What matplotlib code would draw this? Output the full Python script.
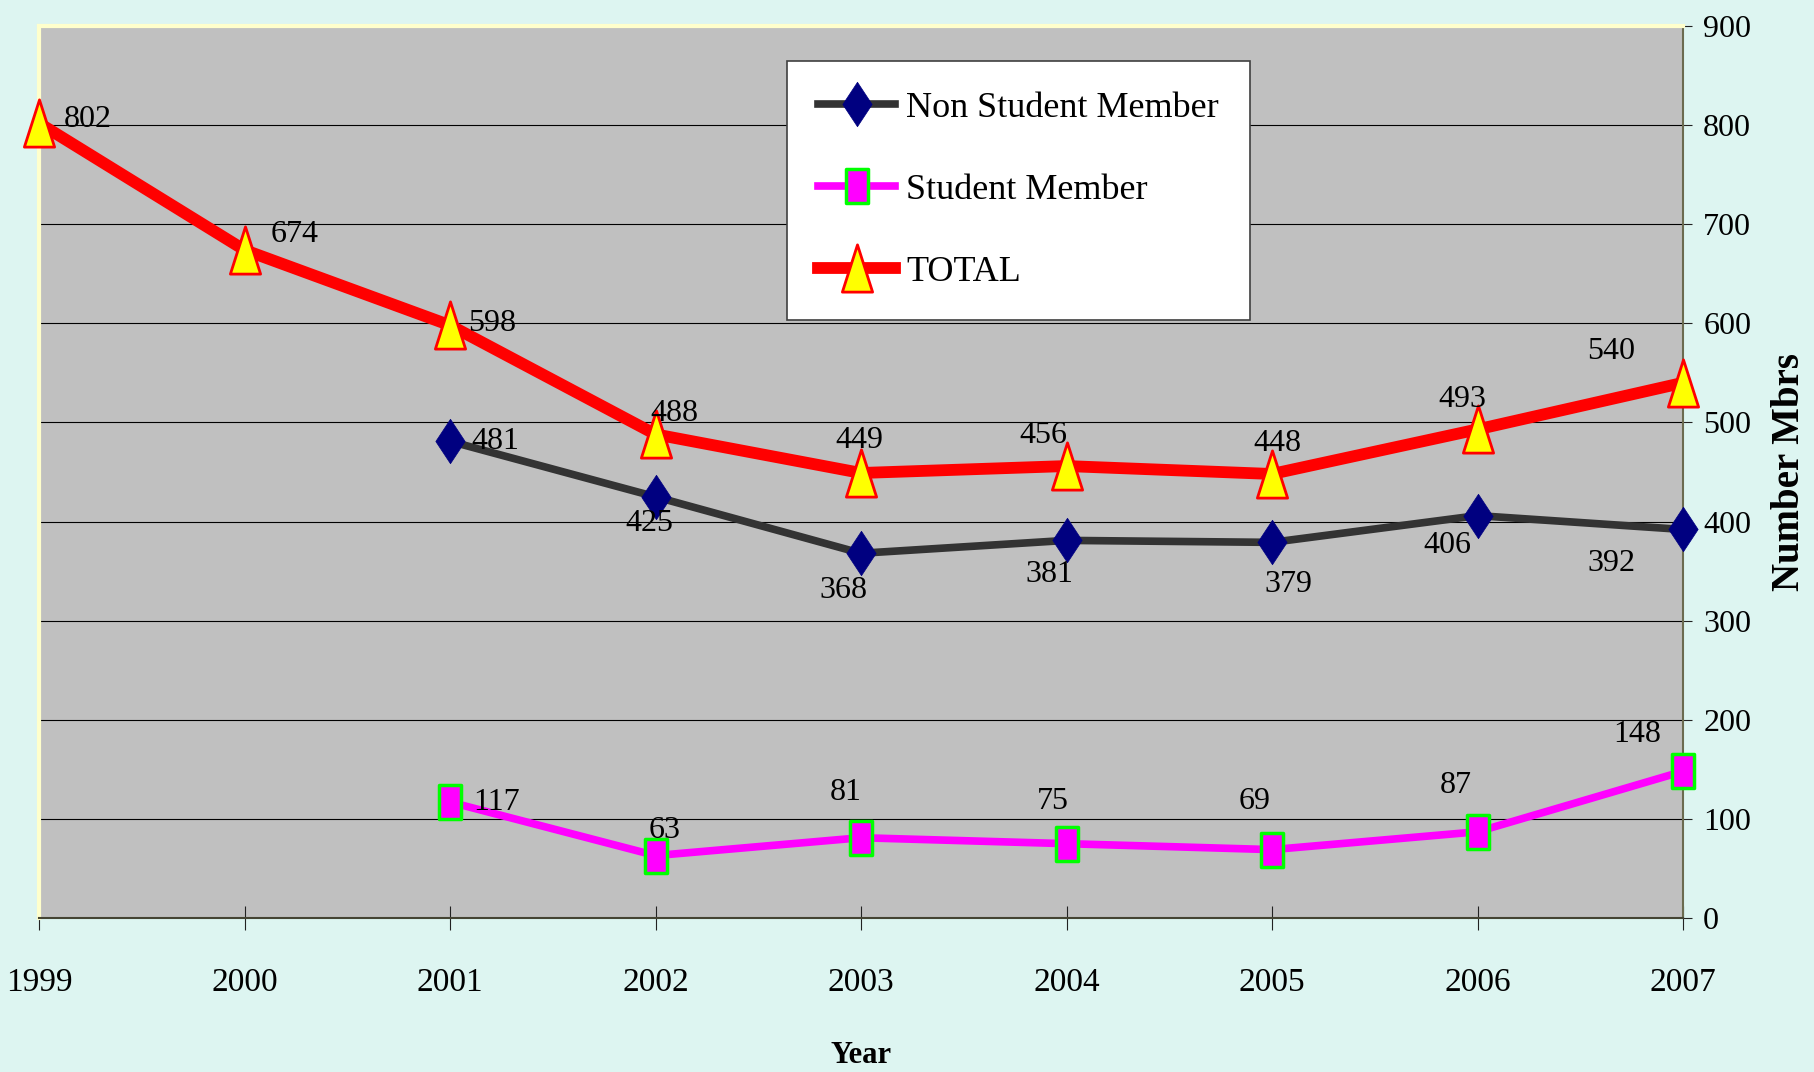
import numpy as np
import matplotlib
matplotlib.use("Agg")
import matplotlib.pyplot as plt
from matplotlib.path import Path

plt.rcParams["font.family"] = ["Liberation Serif", "DejaVu Serif"]

# datos
years       = [1999, 2000, 2001, 2002, 2003, 2004, 2005, 2006, 2007]
non_student = [np.nan, np.nan, 481, 425, 368, 381, 379, 406, 392]
student     = [np.nan, np.nan, 117, 63, 81, 75, 69, 87, 148]
total       = [802, 674, 598, 488, 449, 456, 448, 493, 540]

y_ticks = [0, 100, 200, 300, 400, 500, 600, 700, 800, 900]

# desplazamiento de etiquetas (pixeles, +y hacia arriba)
off_non   = [None, None, (45, 0), (-6, -27), (-18, -37), (-17, -34), (16, -42), (-30, -30), (-72, -34)]
off_stu   = [None, None, (47, 0), (9, 25), (-15, 45), (-14, 42), (-17, 48), (-22, 46), (-46, 37)]
off_total = [(49, 4), (50, 15), (42, 2), (19, 21), (-2, 32), (-23, 31), (5, 30), (-15, 30), (-72, 31)]

# marcadores alargados (como los de Excel)
diamond = Path([(0, 1), (0.66, 0), (0, -1), (-0.66, 0), (0, 1)],
               [Path.MOVETO, Path.LINETO, Path.LINETO, Path.LINETO, Path.CLOSEPOLY])
tri = Path([(0, 1), (0.64, -1), (-0.64, -1), (0, 1)],
           [Path.MOVETO, Path.LINETO, Path.LINETO, Path.CLOSEPOLY])
rect = Path([(-0.64, -1), (0.64, -1), (0.64, 1), (-0.64, 1), (-0.64, -1)],
            [Path.MOVETO, Path.LINETO, Path.LINETO, Path.LINETO, Path.CLOSEPOLY])

BG = "#DDF5F1"
fig = plt.figure(figsize=(18.14, 10.72), dpi=100, facecolor=BG)
ax = fig.add_axes([39/1814, 1 - 918/1072, (1683-39)/1814, (918-26)/1072])
ax.set_facecolor("#C0C0C0")

ax.plot(years, non_student, color="#333333", lw=5.5, marker=diamond, ms=32,
        mfc="#000080", mec="#000080", mew=0.5, clip_on=False, zorder=3,
        label="Non Student Member")
ax.plot(years, student, color="#FF00FF", lw=5.5, marker=rect, ms=25,
        mfc="#FF00FF", mec="#00FF00", mew=2.5, clip_on=False, zorder=3,
        label="Student Member")
ax.plot(years, total, color="#FF0000", lw=8.5, marker=tri, ms=34,
        mfc="#FFFF00", mec="#FF0000", mew=2, clip_on=False, zorder=4,
        label="TOTAL")

for series, offs in [(non_student, off_non), (student, off_stu), (total, off_total)]:
    for x, v, o in zip(years, series, offs):
        if np.isnan(v):
            continue
        ax.annotate(f"{v:.0f}", (x, v), xytext=o, textcoords="offset pixels",
                    ha="center", va="center", fontsize=23, zorder=6,
                    annotation_clip=False)

ax.set_xlim(1999, 2007)
ax.set_ylim(0, 900)
ax.set_xticks(years)
ax.set_xticklabels([str(y) for y in years])
ax.set_yticks(y_ticks)
ax.yaxis.tick_right()
ax.yaxis.set_label_position("right")
ax.grid(axis="y", color="black", lw=0.8)
ax.set_axisbelow(True)

ax.tick_params(axis="x", direction="inout", length=17, width=0.8, pad=27,
               labelsize=24, color="#222222")
ax.tick_params(axis="y", direction="out", length=6.5, width=0.8, pad=8,
               labelsize=23, color="#222222", left=False, right=True)

ax.spines["top"].set_color("#FFFFCC")
ax.spines["top"].set_linewidth(3)
ax.spines["left"].set_color("#FFFFCC")
ax.spines["left"].set_linewidth(3)
ax.spines["bottom"].set_color("#444433")
ax.spines["bottom"].set_linewidth(1.5)
ax.spines["right"].set_color("#6B6B50")
ax.spines["right"].set_linewidth(1.5)

ax.set_xlabel("Year", fontsize=22, fontweight="bold", labelpad=31)
ax.set_ylabel("Number Mbrs", fontsize=28, fontweight="bold", labelpad=14,
              rotation=90)

leg = ax.legend(loc="upper left", bbox_to_anchor=(787/1814, 1 - 61/1072),
                bbox_transform=fig.transFigure, borderaxespad=0,
                fontsize=26, numpoints=1, handlelength=2.15, handletextpad=0.3,
                borderpad=0.85, labelspacing=1.35, fancybox=False, framealpha=1,
                edgecolor="#404040")
leg.get_frame().set_linewidth(1.2)

fig.savefig("out.png", dpi=100, facecolor=BG)
